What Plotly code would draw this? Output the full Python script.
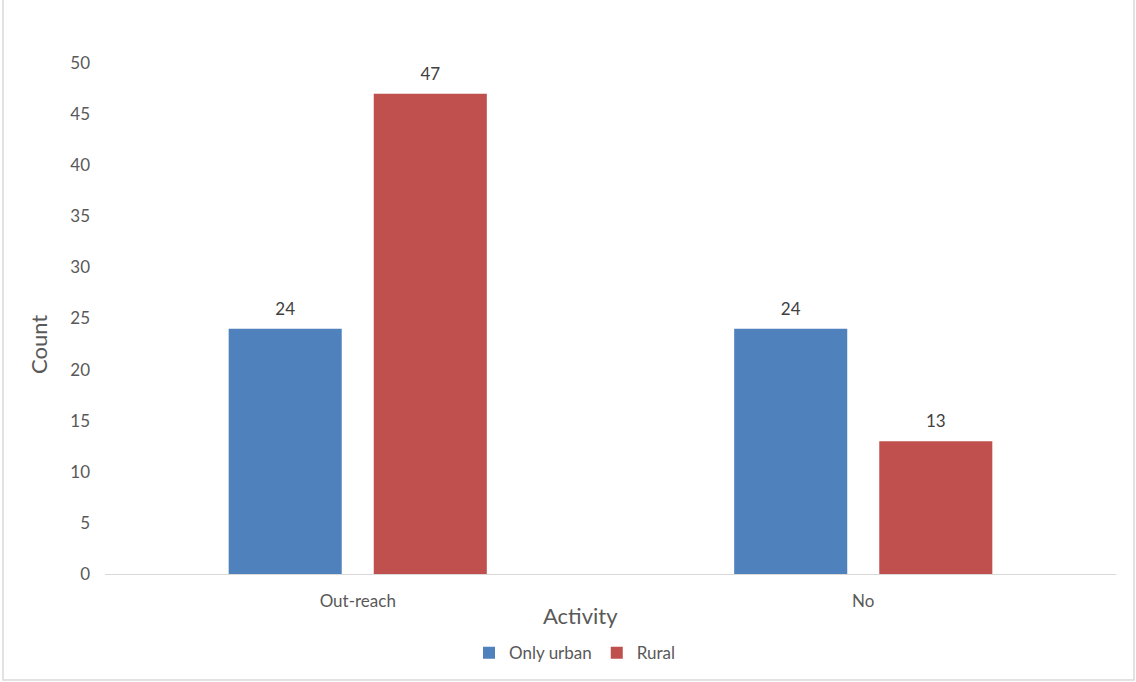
import plotly.graph_objects as go

categories = ["Out-reach", "No"]
only_urban = [24, 24]
rural = [47, 13]
y_ticks = [0, 5, 10, 15, 20, 25, 30, 35, 40, 45, 50]

W, H = 1136, 682
ml, mr, mt, mb = 105, 20, 63, 108
PW, PH = W - ml - mr, H - mt - mb

BAR_GAP = 0.426
GROUP_GAP = 0.2207
LABEL_FONT = dict(size=17, color="#404040", family="Lato, Open Sans, sans-serif")
INVISIBLE = dict(size=14, opacity=0)

fig = go.Figure()
fig.add_trace(go.Bar(name="Only urban", x=categories, y=only_urban, marker_color="#4F81BD",
                     marker_line_width=0))
fig.add_trace(go.Bar(name="Rural", x=categories, y=rural, marker_color="#C0504D",
                     marker_line_width=0))
# data labels (grouped scatter text aligned with the bars)
fig.add_trace(go.Scatter(x=categories, y=only_urban, mode="markers+text", text=only_urban,
                         textposition="top center", textfont=LABEL_FONT, showlegend=False,
                         hoverinfo="skip", cliponaxis=False, marker=INVISIBLE))
fig.add_trace(go.Scatter(x=categories, y=rural, mode="markers+text", text=rural,
                         textposition="top center", textfont=LABEL_FONT, showlegend=False,
                         hoverinfo="skip", cliponaxis=False, marker=INVISIBLE))

fig.update_layout(
    width=W, height=H,
    margin=dict(l=ml, r=mr, t=mt, b=mb, autoexpand=False),
    paper_bgcolor="white", plot_bgcolor="white",
    font=dict(family="Lato, Open Sans, sans-serif", color="#595959", size=17),
    barmode="group", bargap=BAR_GAP, bargroupgap=GROUP_GAP,
    scattermode="group", scattergap=BAR_GAP,
    showlegend=True,
    legend=dict(orientation="h", x=(575 - ml) / PW, y=-0.155, xanchor="center", yanchor="middle",
                font=dict(size=17, color="#595959"), itemwidth=30, traceorder="normal"),
    xaxis=dict(showline=True, linecolor="#d9d9d9", linewidth=1, ticks="", showgrid=False,
               ticklabelstandoff=12, tickfont=dict(size=17, color="#595959"), automargin=False),
    yaxis=dict(range=[0, 50], tickvals=y_ticks, showgrid=False, zeroline=False, showline=False,
               ticks="", ticklabelstandoff=14, tickfont=dict(size=17, color="#595959"), automargin=False),
    annotations=[
        dict(text="Count", xref="paper", yref="paper", x=(38 - ml) / PW, y=(H - mb - 345) / PH,
             textangle=-90, showarrow=False, font=dict(size=22, color="#595959"),
             xanchor="center", yanchor="middle"),
        dict(text="Activity", xref="paper", yref="paper", x=(580 - ml) / PW,
             y=-(615 - (H - mb)) / PH, showarrow=False,
             font=dict(size=22, color="#595959"), xanchor="center", yanchor="middle"),
    ],
    shapes=[dict(type="rect", xref="paper", yref="paper",
                 x0=(3 - ml) / PW, x1=(1134 - ml) / PW,
                 y0=-(680 - (H - mb)) / PH, y1=(H - mb + 5) / PH,
                 line=dict(color="#d9d9d9", width=1.5), layer="below")],
)

fig.write_html("out.html")
